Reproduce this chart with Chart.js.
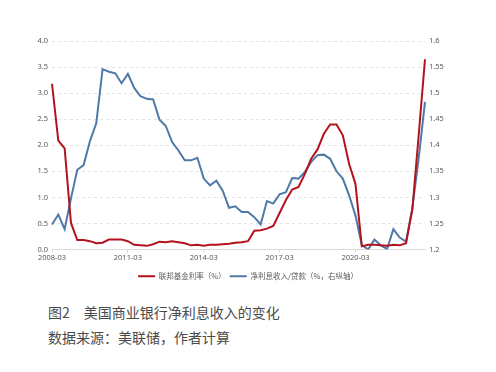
<!DOCTYPE html>
<html>
<head>
<meta charset="utf-8">
<script src="https://cdn.jsdelivr.net/npm/chart.js@4"></script>
<style>
  body { margin: 0; background: #fff; }
  #wrap { position: relative; width: 496px; height: 372px; }
  #chartBox { position: absolute; left: 0; top: 0; width: 496px; height: 292px; }
  .cap { position: absolute; left: 48px; font-family: "Noto Sans CJK SC", sans-serif; font-size: 14px; color: #4a4a4a; white-space: nowrap; }
</style>
</head>
<body>
<div id="wrap">
  <div id="chartBox"><canvas id="nimChart"></canvas></div>
  <div class="cap" style="top:302px">图2　美国商业银行净利息收入的变化</div>
  <div class="cap" style="top:327px">数据来源：美联储，作者计算</div>
</div>
<script>
  // quarterly labels 2008-03 ... 2022-12
  const quarters = [];
  for (let y = 2008; y <= 2022; y++) {
    ["03", "06", "09", "12"].forEach(m => quarters.push(y + "-" + m));
  }

  // federal funds rate (%), left axis
  const fedFunds = [
    3.18, 2.09, 1.94, 0.51, 0.18, 0.18, 0.16, 0.12, 0.13, 0.19, 0.19, 0.19,
    0.16, 0.09, 0.08, 0.07, 0.10, 0.15, 0.14, 0.16, 0.14, 0.12, 0.08, 0.09,
    0.07, 0.09, 0.09, 0.10, 0.11, 0.13, 0.14, 0.16, 0.36, 0.37, 0.40, 0.45,
    0.70, 0.95, 1.15, 1.20, 1.45, 1.74, 1.92, 2.22, 2.40, 2.40, 2.19, 1.64,
    1.26, 0.06, 0.09, 0.09, 0.08, 0.07, 0.09, 0.08, 0.12, 0.77, 2.19, 3.65
  ];

  // net interest income / loans (%), right axis
  const nimLoans = [
    1.248, 1.267, 1.239, 1.298, 1.353, 1.362, 1.408, 1.442, 1.546, 1.541, 1.538, 1.519,
    1.537, 1.510, 1.494, 1.489, 1.488, 1.449, 1.437, 1.406, 1.390, 1.371, 1.371, 1.376,
    1.336, 1.323, 1.332, 1.313, 1.280, 1.283, 1.272, 1.272, 1.262, 1.248, 1.293, 1.288,
    1.306, 1.310, 1.337, 1.336, 1.349, 1.368, 1.381, 1.382, 1.374, 1.350, 1.336, 1.304,
    1.265, 1.209, 1.200, 1.219, 1.208, 1.201, 1.239, 1.223, 1.215, 1.280, 1.375, 1.483
  ];

  const leftTicks = { min: 0, max: 4, step: 0.5 };
  const rightTicks = { min: 1.2, max: 1.6, step: 0.05 };

  const tickFont = { family: "'Noto Sans', 'Noto Sans CJK SC', sans-serif", size: 7.5 };
  const tickColor = "#595959";

  const ctx = document.getElementById("nimChart").getContext("2d");
  new Chart(ctx, {
    type: "line",
    data: {
      labels: quarters,
      datasets: [{
        label: "联邦基金利率（%）",
        data: fedFunds,
        yAxisID: "y",
        borderColor: "#b3121f",
        backgroundColor: "#b3121f",
        borderWidth: 2,
        pointRadius: 0,
        tension: 0
      }, {
        label: "净利息收入/贷款（%，右纵轴）",
        data: nimLoans,
        yAxisID: "y1",
        borderColor: "#4f79a6",
        backgroundColor: "#4f79a6",
        borderWidth: 2,
        pointRadius: 0,
        tension: 0
      }]
    },
    options: {
      responsive: true,
      maintainAspectRatio: false,
      animation: false,
      layout: { padding: { top: 41, bottom: 2, left: 0, right: 0 } },
      plugins: {
        tooltip: { enabled: false },
        legend: {
          position: "bottom",
          labels: {
            font: { family: "'Noto Sans CJK SC', sans-serif", size: 7.5 },
            color: tickColor,
            boxWidth: 17,
            boxHeight: 2,
            padding: 4,
            generateLabels: function(chart) {
              return chart.data.datasets.map((ds, i) => ({
                text: ds.label,
                fillStyle: ds.borderColor,
                strokeStyle: ds.borderColor,
                lineWidth: 0,
                fontColor: tickColor,
                datasetIndex: i
              }));
            }
          }
        }
      },
      scales: {
        x: {
          grid: { drawOnChartArea: false, color: "#d9d9d9", tickLength: 3 },
          border: { color: "#d9d9d9" },
          ticks: { font: tickFont, color: tickColor, autoSkip: false, maxRotation: 0, padding: 1 },
          afterBuildTicks: function(scale) {
            scale.ticks = scale.ticks.filter(t => t.value % 12 === 0);
          },
          afterFit: function(scale) { scale.height = 19; }
        },
        y: {
          position: "left",
          min: leftTicks.min,
          max: leftTicks.max,
          grid: { color: "#e3e3e3", drawTicks: false },
          border: { display: false, dash: [3, 3] },
          ticks: {
            stepSize: leftTicks.step, font: tickFont, color: tickColor, padding: 4,
            callback: v => v.toFixed(1)
          },
          afterFit: function(scale) { scale.width = 52; }
        },
        y1: {
          position: "right",
          min: rightTicks.min,
          max: rightTicks.max,
          grid: { drawOnChartArea: false, drawTicks: false },
          border: { display: false },
          ticks: {
            stepSize: rightTicks.step, font: tickFont, color: tickColor, padding: 4,
            callback: v => String(+v.toFixed(2))
          },
          afterFit: function(scale) { scale.width = 71; }
        }
      }
    }
  });
</script>
</body>
</html>
